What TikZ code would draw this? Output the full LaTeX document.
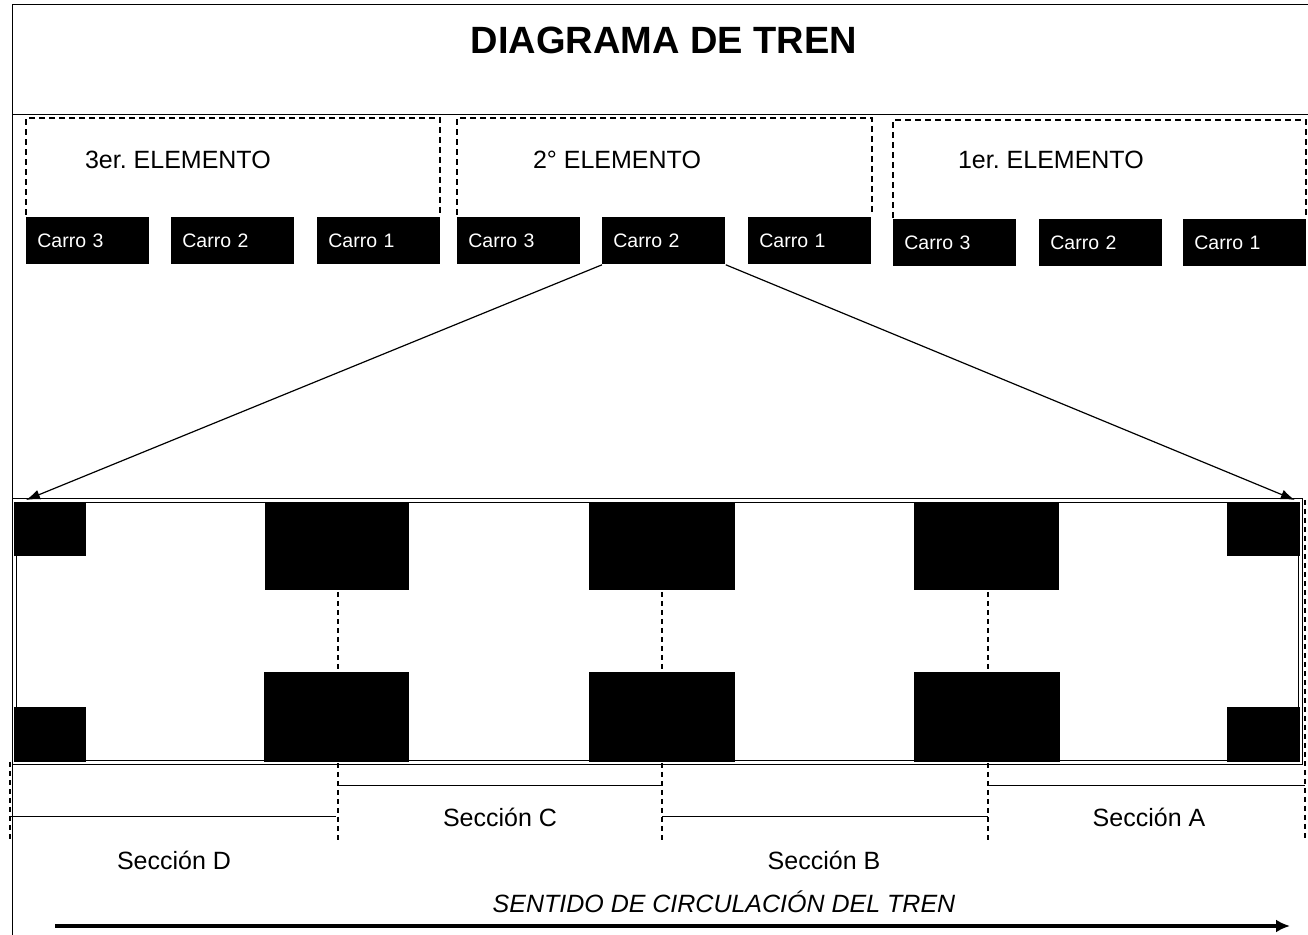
\documentclass[tikz,border=0pt]{standalone}
\usepackage{fontspec}
\setmainfont{Liberation Sans}
\usetikzlibrary{arrows.meta}
\frenchspacing
\tikzset{
  marco/.style={line width=0.5pt},
  elemento/.style={dash pattern=on 3pt off 2pt,line width=0.7pt},
  carro/.style={fill=black,text=white,anchor=north west,inner xsep=5.5pt,inner ysep=0pt,text width=50.5pt,minimum height=23.5pt,align=left,font=\fontsize{9.75}{11}\selectfont},
  rotulo/.style={font=\fontsize{12.5}{14}\selectfont},
  corte/.style={dash pattern=on 2.5pt off 2pt,line width=0.6pt},
  seccion/.style={line width=0.5pt},
  flecha/.style={line width=0.6pt,-{Latex[length=7pt,width=5pt]}},
}

\begin{document}
\begin{tikzpicture}[x=0.5pt,y=-0.5pt,line join=miter]
\path[use as bounding box] (0,0) rectangle (1308,935);
\draw[marco] (12,935) -- (12,5) -- (1308,5);
\draw[marco] (12,115) -- (1308,115);
\node[font=\bfseries\fontsize{19}{22}\selectfont] (titulo) at (664,40) {DIAGRAMA DE TREN};
\draw[elemento] (26,215) -- (26,118) -- (440,118) -- (440,215);
\draw[elemento] (457,215) -- (457,118) -- (872,118) -- (872,215);
\draw[elemento] (893,218) -- (893,120) -- (1306,120) -- (1306,218);
\node[rotulo,anchor=west] (el3) at (78,160) {3er. ELEMENTO};
\node[rotulo,anchor=west] (el2) at (526,160) {2° ELEMENTO};
\node[rotulo,anchor=west] (el1) at (951,160) {1er. ELEMENTO};
\node[carro] (e3c3) at (26,217) {Carro 3};
\node[carro] (e3c2) at (171,217) {Carro 2};
\node[carro] (e3c1) at (317,217) {Carro 1};
\node[carro] (e2c3) at (457,217) {Carro 3};
\node[carro] (e2c2) at (602,217) {Carro 2};
\node[carro] (e2c1) at (748,217) {Carro 1};
\node[carro] (e1c3) at (893,219) {Carro 3};
\node[carro] (e1c2) at (1039,219) {Carro 2};
\node[carro] (e1c1) at (1183,219) {Carro 1};
% carro ampliado
\node[draw,double,double distance=1.5pt,line width=0.4pt,anchor=north west,inner sep=0pt,minimum width=643pt,minimum height=131pt] (coche) at (14,500) {};
\draw[flecha] (e2c2.south west) -- ([xshift=6pt]coche.north west);
\draw[flecha] (e2c2.south east) -- ([xshift=-3pt]coche.north east);
\foreach \x in {338,662,988}
  \draw[corte] (\x,502) -- (\x,840);
\draw[corte] (10,762) -- (10,840);
\draw[corte] (1305,500) -- (1305,840);
\fill (14,502) rectangle (86,556);
\fill (265,502) rectangle (409,590);
\fill (589,502) rectangle (735,590);
\fill (914,502) rectangle (1059,590);
\fill (1227,502) rectangle (1300,556);
\fill (14,707) rectangle (86,762);
\fill (264,672) rectangle (409,762);
\fill (589,672) rectangle (735,762);
\fill (914,672) rectangle (1060,762);
\fill (1227,707) rectangle (1300,762);
% secciones
\draw[seccion] (10,816) -- (336,816);
\draw[seccion] (338,785) -- (662,785);
\draw[seccion] (662,816) -- (988,816);
\draw[seccion] (988,785) -- (1305,785);
\node[rotulo] (secD) at (174,860) {Sección D};
\node[rotulo] (secC) at (500,817) {Sección C};
\node[rotulo] (secB) at (824,860) {Sección B};
\node[rotulo] (secA) at (1149,817) {Sección A};
\node[rotulo,font=\itshape\fontsize{12.5}{14}\selectfont] (sentido) at (724,902) {SENTIDO DE CIRCULACIÓN DEL TREN};
\coordinate (ini) at (55,926);
\coordinate (fin) at (1290,926);
\draw[line width=2pt,-{Latex[length=7pt,width=6.5pt]}] (ini) -- (fin);
\end{tikzpicture}
\end{document}
